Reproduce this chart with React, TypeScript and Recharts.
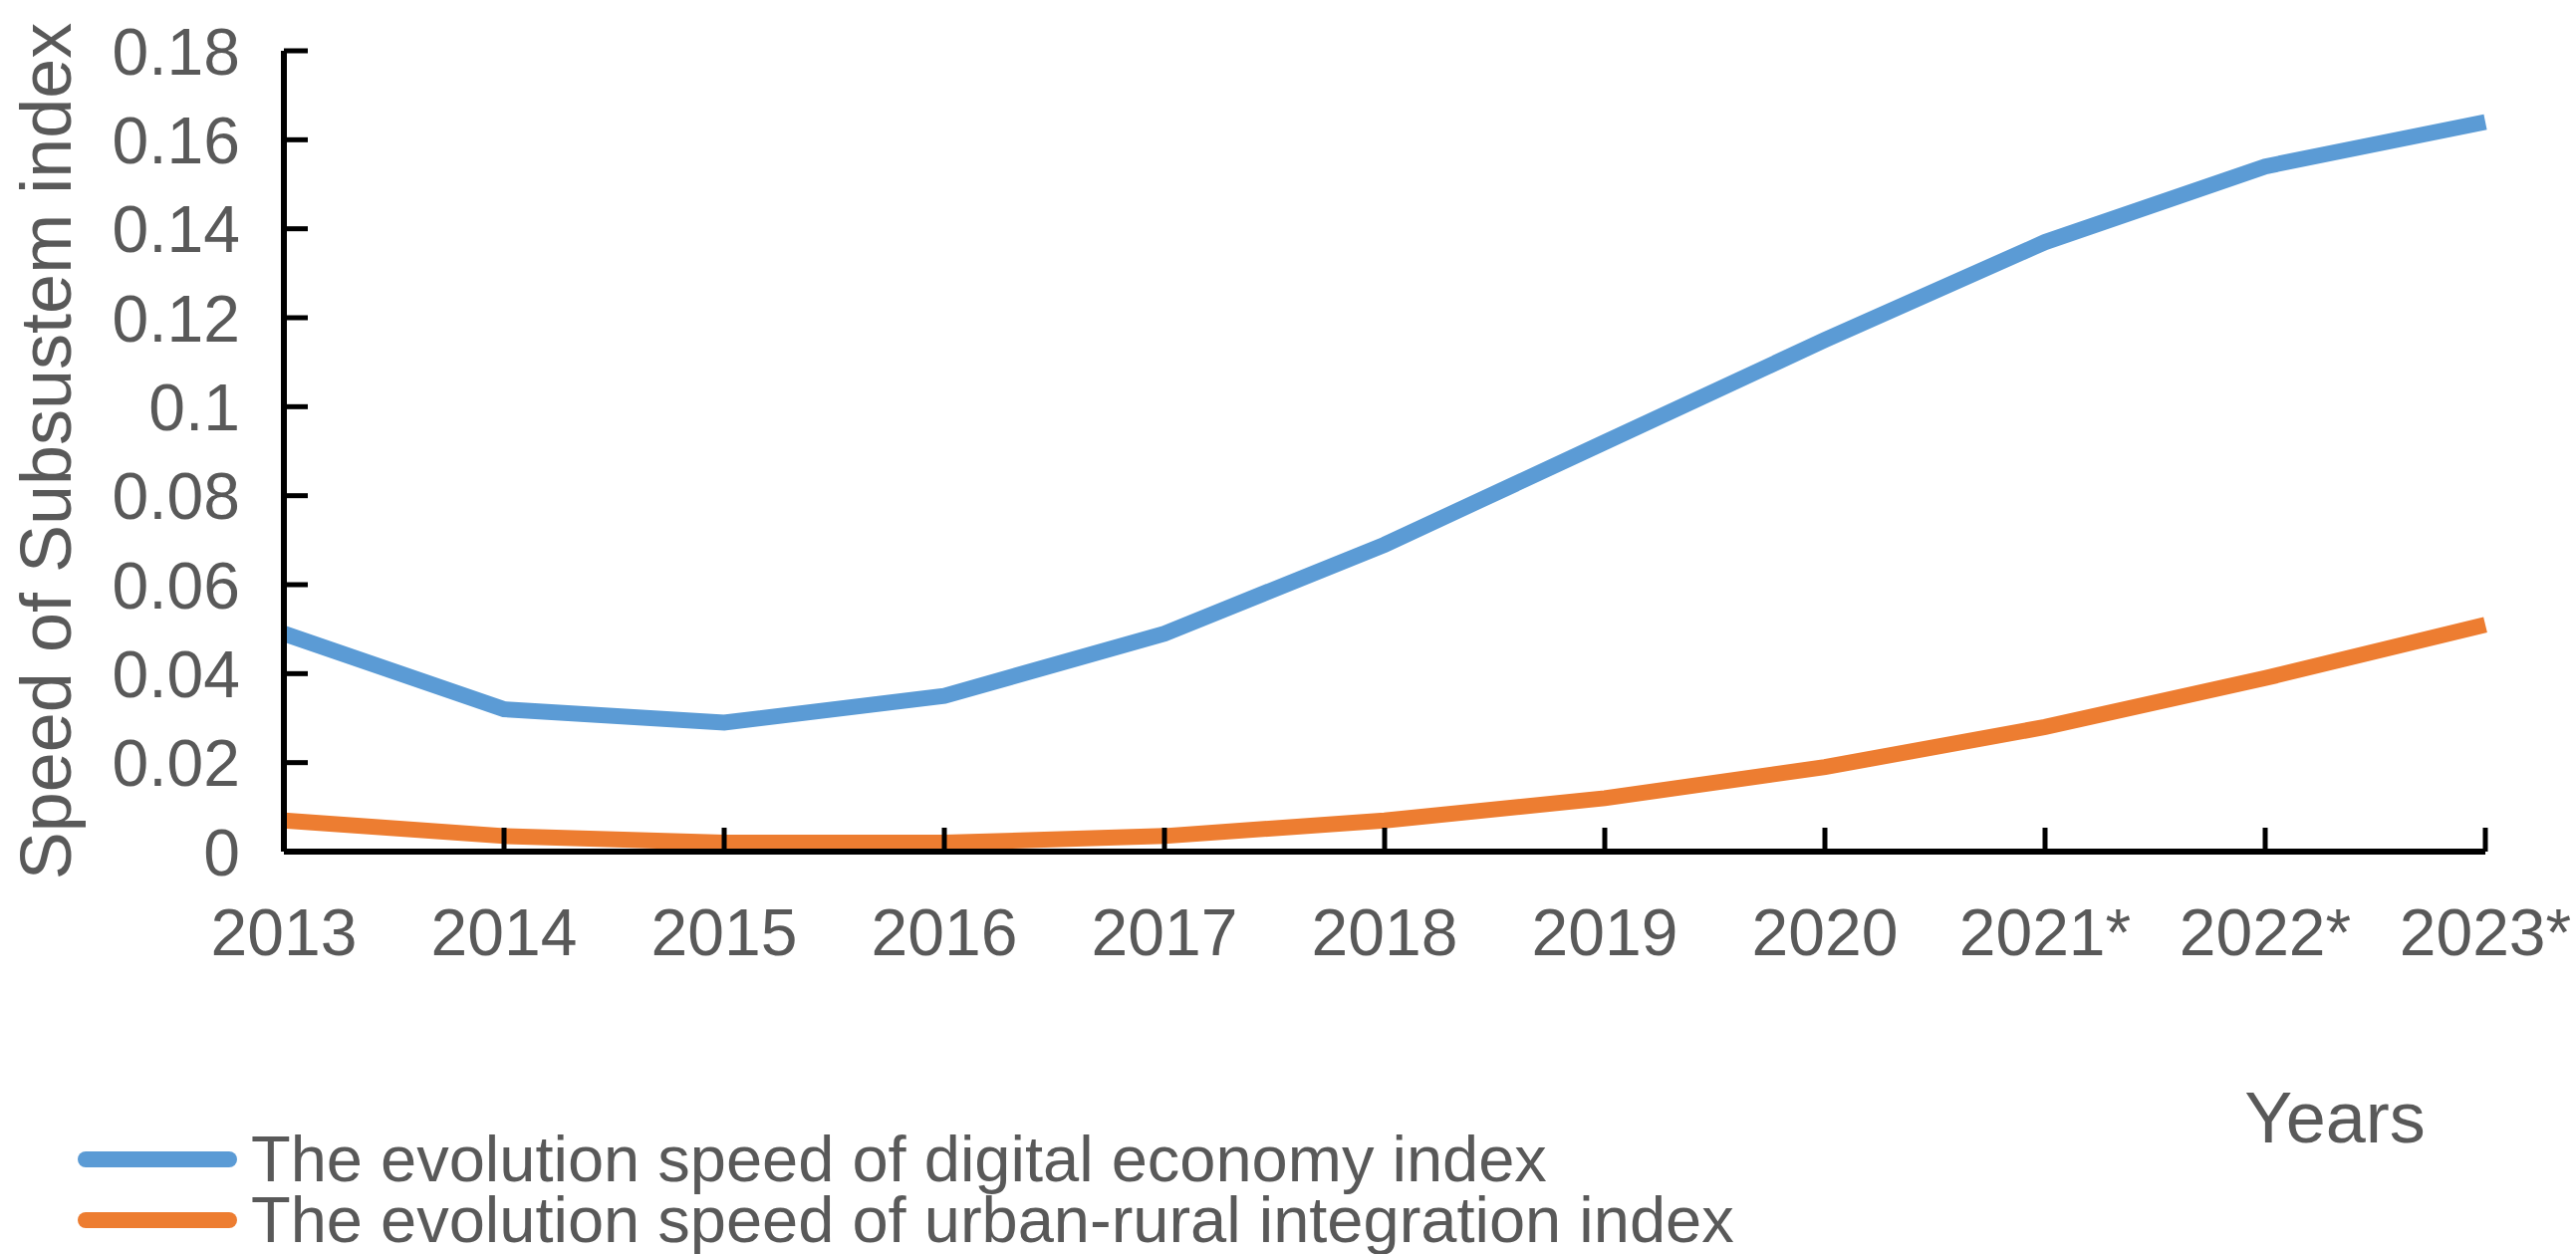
import { LineChart, Line, XAxis, YAxis, Legend, Label } from 'recharts';

const years = ['2013', '2014', '2015', '2016', '2017', '2018', '2019', '2020', '2021*', '2022*', '2023*'];
const digitalSpeed = [0.049, 0.032, 0.029, 0.035, 0.049, 0.069, 0.092, 0.115, 0.137, 0.154, 0.164];
const urbanRuralSpeed = [0.007, 0.0035, 0.002, 0.002, 0.0035, 0.007, 0.012, 0.019, 0.028, 0.039, 0.051];
const yTicks = [0, 0.02, 0.04, 0.06, 0.08, 0.1, 0.12, 0.14, 0.16, 0.18];

const seriesNames = {
  digital: 'The evolution speed of digital economy index',
  urban: 'The evolution speed of urban-rural integration index',
};

const data = years.map((year, i) => ({
  year,
  digital: digitalSpeed[i],
  urban: urbanRuralSpeed[i],
}));

const FONT = '"Liberation Sans", Arial, Helvetica, sans-serif';
const TEXT = '#595959';
const BLUE = '#5B9BD5';
const ORANGE = '#ED7D31';
const FS = 66;
const LEGEND_FS = 65;
const TITLE_FS = 72;
const Y_GAP = 44;
const TICK_LEN = 24;

// y labels sit left of the axis, tick marks point into the plot
const YTick = ({ x, y, payload }: any) => (
  <g>
    <line x1={x + Y_GAP} x2={x + Y_GAP + TICK_LEN} y1={y} y2={y} stroke="#000" strokeWidth={5} />
    <text x={x} y={y} dy={FS * 0.36} textAnchor="end" fill={TEXT} fontSize={FS} fontFamily={FONT}>
      {payload.value}
    </text>
  </g>
);

const XTick = ({ x, y, payload, index }: any) => (
  <g>
    {index > 0 && <line x1={x} x2={x} y1={y} y2={y - TICK_LEN} stroke="#000" strokeWidth={5} />}
    <text x={x} y={y + 104} textAnchor="middle" fill={TEXT} fontSize={FS} fontFamily={FONT}>
      {payload.value}
    </text>
  </g>
);

const renderLegend = () => (
  <div style={{ fontFamily: FONT, fontSize: LEGEND_FS, color: TEXT }}>
    {[
      { color: BLUE, name: seriesNames.digital },
      { color: ORANGE, name: seriesNames.urban },
    ].map((item) => (
      <div key={item.name} style={{ display: 'flex', alignItems: 'center', height: 61 }}>
        <span
          style={{
            display: 'inline-block',
            width: 160,
            height: 16,
            borderRadius: 8,
            background: item.color,
            marginRight: 14,
          }}
        />
        <span
          style={{
            display: 'block',
            height: 56,
            lineHeight: '56px',
            overflow: 'visible',
            whiteSpace: 'nowrap',
          }}
        >
          {item.name}
        </span>
      </div>
    ))}
  </div>
);

export default function App() {
  return (
    <div style={{ position: 'absolute', left: 0, top: 0, background: '#fff' }}>
      <LineChart
        width={2586}
        height={1259}
        data={data}
        margin={{ top: 51, right: 91, bottom: 284, left: 0 }}
      >
        <XAxis
          dataKey="year"
          height={120}
          axisLine={{ stroke: '#000', strokeWidth: 6 }}
          tickLine={false}
          tickSize={0}
          tickMargin={0}
          tick={<XTick />}
          interval={0}
        >
          <Label
            content={({ viewBox }: any) => (
              <text
                x={viewBox.x + viewBox.width - 151}
                y={viewBox.y + 292}
                textAnchor="middle"
                fill={TEXT}
                fontSize={TITLE_FS}
                fontFamily={FONT}
              >
                Years
              </text>
            )}
          />
        </XAxis>
        <YAxis
          width={285}
          domain={[0, 0.18]}
          ticks={yTicks}
          axisLine={{ stroke: '#000', strokeWidth: 6 }}
          tickLine={false}
          tickSize={0}
          tickMargin={Y_GAP}
          tick={<YTick />}
          interval={0}
        >
          <Label
            content={({ viewBox }: any) => (
              <text
                x={46}
                y={viewBox.y + viewBox.height / 2}
                transform={`rotate(-90, 46, ${viewBox.y + viewBox.height / 2})`}
                textAnchor="middle"
                dominantBaseline="central"
                fill={TEXT}
                fontSize={TITLE_FS}
                fontFamily={FONT}
              >
                Speed of Subsustem index
              </text>
            )}
          />
        </YAxis>
        <Legend
          content={renderLegend}
          layout="vertical"
          align="center"
          verticalAlign="middle"
          wrapperStyle={{ position: 'absolute', left: 78, top: 1133, width: 2000 }}
        />
        <Line
          type="linear"
          dataKey="digital"
          name={seriesNames.digital}
          stroke={BLUE}
          strokeWidth={16}
          dot={false}
          isAnimationActive={false}
        />
        <Line
          type="linear"
          dataKey="urban"
          name={seriesNames.urban}
          stroke={ORANGE}
          strokeWidth={16}
          dot={false}
          isAnimationActive={false}
        />
      </LineChart>
    </div>
  );
}
